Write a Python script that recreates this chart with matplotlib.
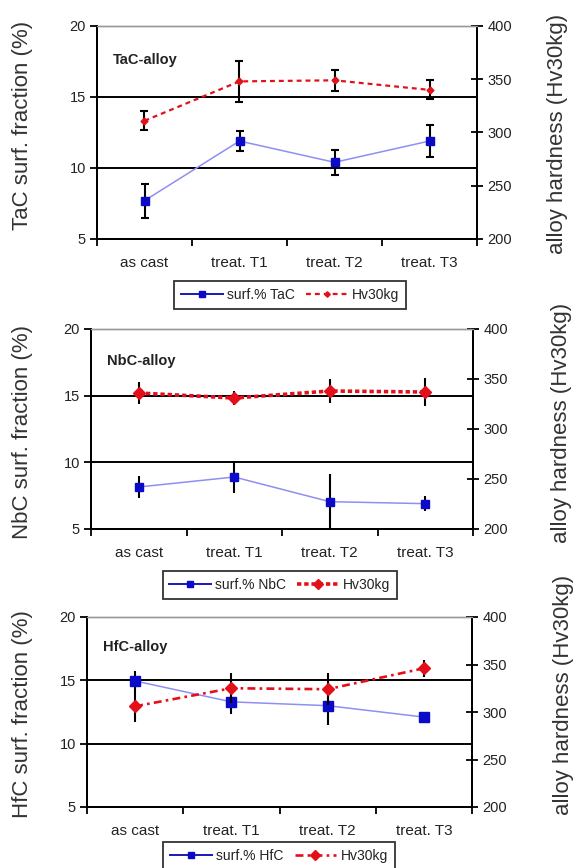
import matplotlib
matplotlib.use("Agg")
import matplotlib.pyplot as plt
from matplotlib.lines import Line2D

plt.rcParams['font.family'] = ['Liberation Sans', 'DejaVu Sans']

# ---- data -------------------------------------------------------------
categories = ["as cast", "treat. T1", "treat. T2", "treat. T3"]

tac_frac = [7.7, 11.9, 10.4, 11.9]
tac_frac_err = [1.2, 0.7, 0.9, 1.1]
tac_hv = [311, 348, 349, 340]
tac_hv_err = [9, 19, 10, 9]

nbc_frac = [8.15, 8.9, 7.05, 6.9]
nbc_frac_err = [0.8, 1.2, 2.05, 0.55]
nbc_hv = [336, 331, 338, 337]
nbc_hv_err = [11, 7, 12, 14]

hfc_frac = [14.95, 13.3, 13.0, 12.1]
hfc_frac_err = [0.8, 0.95, 1.55, 0.4]
hfc_hv = [306, 325, 324, 346]
hfc_hv_err = [16, 16, 17, 9]

frac_ticks = [5, 10, 15, 20]
hv_ticks = [200, 250, 300, 350, 400]

# ---- styling ----------------------------------------------------------
BLUE_LINE = "#8f8ff2"
BLUE_MARK = "#0a0ac8"
BLUE_LEG = "#1818b8"
RED = "#e3101c"
TXT = "#222222"

W, H = 576, 868
fig = plt.figure(figsize=(W / 100, H / 100), dpi=100)
fig.patch.set_facecolor("white")


def px_axes(x0, x1, y0, y1):
    return fig.add_axes([x0 / W, 1 - y1 / H, (x1 - x0) / W, (y1 - y0) / H])


panels = [
    dict(box=(97, 477, 26, 239), name="TaC", frac=tac_frac, ferr=tac_frac_err,
         hv=tac_hv, herr=tac_hv_err, cap=3, red_ls=(0, (2.2, 1.8)), red_lw=1.6,
         red_ms=3.5, blue_ms=5.5, leg=(290, 281), lab_l=125, lab_r=(557, 134)),
    dict(box=(91, 473, 329, 529), name="NbC", frac=nbc_frac, ferr=nbc_frac_err,
         hv=nbc_hv, herr=nbc_hv_err, cap=0, red_ls=(0, (1.2, 0.8)), red_lw=2.6,
         red_ms=6.5, blue_ms=5.5, leg=(280, 571), lab_l=432, lab_r=(561, 423)),
    dict(box=(87, 472, 617, 807), name="HfC", frac=hfc_frac, ferr=hfc_frac_err,
         hv=hfc_hv, herr=hfc_hv_err, cap=0, red_ls=(0, (3, 1.6, 1, 1.6)), red_lw=1.9,
         red_ms=6.5, blue_ms=6.5, leg=(279, 842), lab_l=714, lab_r=(563, 695)),
]

xpos = [i + 0.5 for i in range(len(categories))]

for p in panels:
    ax = px_axes(*p["box"])
    ax2 = ax.twinx()

    ax.set_xlim(0, len(categories))
    ax.set_ylim(frac_ticks[0], frac_ticks[-1])
    ax2.set_ylim(hv_ticks[0], hv_ticks[-1])

    # horizontal reference lines
    for yv in (10, 15):
        ax.axhline(yv, color="black", lw=1.4, zorder=1)

    # carbide surface fraction
    ax.errorbar(xpos, p["frac"], yerr=p["ferr"], fmt="none", ecolor="black",
                elinewidth=1.5, capsize=p["cap"], capthick=1.5, zorder=3)
    ax.plot(xpos, p["frac"], color=BLUE_LINE, lw=1.1, marker="s",
            ms=p["blue_ms"], mfc=BLUE_MARK, mec=BLUE_MARK, zorder=4)

    # hardness on the secondary axis
    ax2.errorbar(xpos, p["hv"], yerr=p["herr"], fmt="none", ecolor="black",
                 elinewidth=1.5, capsize=p["cap"], capthick=1.5, zorder=3)
    ax2.plot(xpos, p["hv"], color=RED, lw=p["red_lw"], ls=p["red_ls"],
             marker="D", ms=p["red_ms"], mfc=RED, mec=RED, zorder=4)

    # axes decoration
    ax.set_xticks(range(len(categories) + 1))
    ax.set_xticklabels([])
    ax.set_xticks(xpos, minor=True)
    ax.set_xticklabels(categories, minor=True, fontsize=11, color=TXT)
    ax.tick_params(axis="x", which="major", direction="out", length=5, width=1.3)
    ax.tick_params(axis="x", which="minor", length=0, pad=12)
    ax.set_yticks(frac_ticks)
    ax.set_yticklabels([str(t) for t in frac_ticks], fontsize=10.5, color=TXT)
    ax.tick_params(axis="y", direction="out", length=5, width=1.3, pad=3)
    ax2.set_yticks(hv_ticks)
    ax2.set_yticklabels([str(t) for t in hv_ticks], fontsize=10.5, color=TXT)
    ax2.tick_params(axis="y", direction="inout", length=9, width=1.3, pad=3)

    for a in (ax, ax2):
        for s in ("left", "right", "bottom"):
            a.spines[s].set_color("black")
            a.spines[s].set_linewidth(1.4)
        a.spines["top"].set_color("#9a9a9a")
        a.spines["top"].set_linewidth(1.0)

    ax.text(0.042, 0.84, f"{p['name']}-alloy", transform=ax.transAxes,
            fontsize=10.5, fontweight="bold", color=TXT, va="center")

    fig.text(23 / W, 1 - p["lab_l"] / H, f"{p['name']} surf. fraction (%)",
             rotation=90, fontsize=16, color="#333333", ha="center", va="center")
    rx, ry = p["lab_r"]
    fig.text(rx / W, 1 - ry / H, "alloy hardness (Hv30kg)",
             rotation=90, fontsize=16, color="#333333", ha="center", va="center")

    handles = [
        Line2D([], [], color=BLUE_LEG, lw=1.4, marker="s", ms=4.5,
               mfc=BLUE_MARK, mec=BLUE_MARK),
        Line2D([], [], color=RED, lw=p["red_lw"], ls=p["red_ls"], marker="D",
               ms=p["red_ms"] * 0.8, mfc=RED, mec=RED),
    ]
    lx, ly = p["leg"]
    leg = fig.legend(handles, [f"surf.% {p['name']}", "Hv30kg"],
                     loc="upper center", bbox_to_anchor=(lx / W, 1 - ly / H),
                     ncol=2, fontsize=10, frameon=True, fancybox=False,
                     edgecolor="black", handlelength=3.0, handletextpad=0.3,
                     columnspacing=0.8, borderpad=0.5, borderaxespad=0)
    leg.get_frame().set_linewidth(1.3)
    for t in leg.get_texts():
        t.set_color(TXT)

fig.savefig("out.png", dpi=100, facecolor="white")
